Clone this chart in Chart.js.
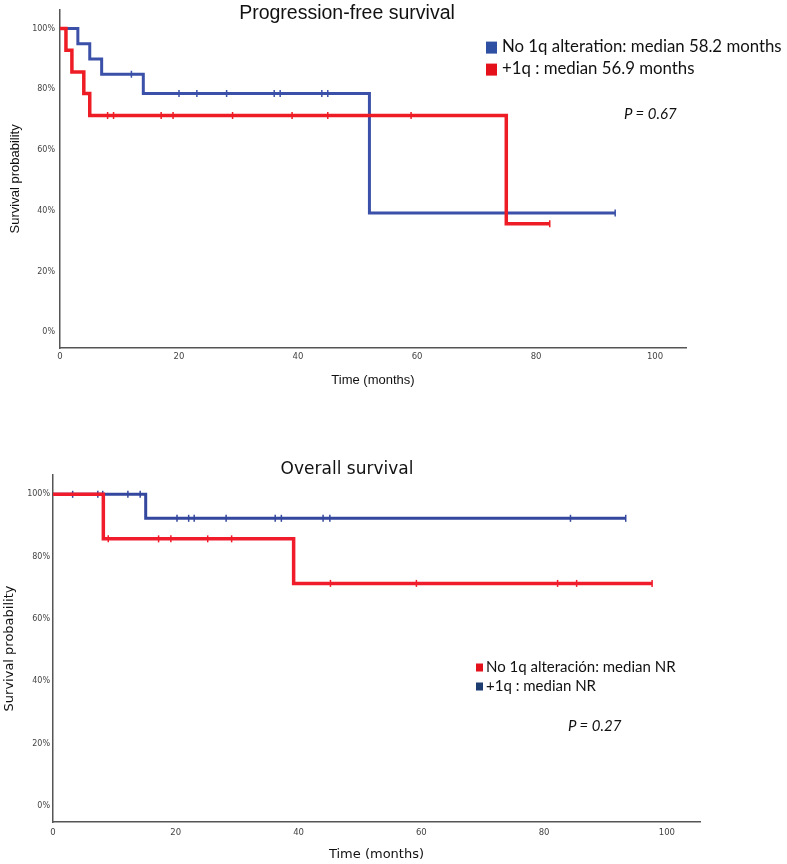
<!DOCTYPE html>
<html>
<head>
<meta charset="utf-8">
<script src="https://cdn.jsdelivr.net/npm/chart.js@4"></script>
<style>
  body { margin: 0; background: #fff; width: 787px; height: 864px; position: relative; overflow: hidden; }
  canvas { position: absolute; left: 0; }
  #pfs { top: 0; }
  #os { top: 430px; }
  .txt { position: absolute; white-space: nowrap; line-height: 1; color: #111; }
  .c { transform: translate(-50%, -50%); }
  .row { transform: translateY(-50%); font-family: Lato, sans-serif; }
  .sq { display: inline-block; vertical-align: middle; margin-right: 5px; }
  .p { font-family: Lato, sans-serif; font-style: italic; transform: translateY(-50%); }
</style>
</head>
<body>
<canvas id="pfs" width="787" height="400"></canvas>
<canvas id="os" width="787" height="434"></canvas>

<div class="txt c" style="left:347px; top:12px; font:19.5px 'Liberation Sans', Arial, sans-serif;">Progression-free survival</div>
<div class="txt row" style="left:486px; top:46px; font-size:16.8px;"><span class="sq" style="width:11px;height:12px;background:#2f4fa2;"></span>No 1q alteration: median 58.2 months</div>
<div class="txt row" style="left:486px; top:68px; font-size:16.8px;"><span class="sq" style="width:11px;height:12px;background:#e4101a;"></span>+1q : median 56.9 months</div>
<div class="txt p" style="left:624px; top:113px; font-size:15px;">P = 0.67</div>

<div class="txt c" style="left:347px; top:468px; font:17px 'DejaVu Sans', sans-serif;">Overall survival</div>
<div class="txt row" style="left:476px; top:666px; font-size:15px;"><span class="sq" style="width:7px;height:8px;background:#e4101a;margin-right:3px;"></span>No 1q alteración: median NR</div>
<div class="txt row" style="left:476px; top:685px; font-size:15px;"><span class="sq" style="width:7px;height:8px;background:#1d3c70;margin-right:3px;"></span>+1q : median NR</div>
<div class="txt p" style="left:568px; top:725px; font-size:15px;">P = 0.27</div>

<script>
const xTicks = [0, 20, 40, 60, 80, 100];
const yTicks = [0, 20, 40, 60, 80, 100];

// progression-free survival
const pfsNoAltTimes = [0, 3, 5, 7, 14, 52];
const pfsNoAltSurv = [100, 95, 90, 85, 78.6, 39.3];
const pfsNoAltCensored = [12, 20, 23, 28, 36, 37, 44, 45, 93.3];
const pfsGainTimes = [0, 1, 2, 4, 5, 75];
const pfsGainSurv = [100, 92.9, 85.7, 78.6, 71.4, 35.7];
const pfsGainCensored = [8, 9, 17, 19, 29, 39, 45, 59, 82.3];

// overall survival
const osNoAltTimes = [0, 8.2, 39.2];
const osNoAltSurv = [100, 85.7, 71.4];
const osNoAltCensored = [9, 17.2, 19.2, 25.2, 29.1, 45.2, 59.2, 82.2, 85.3, 97.6];
const osGainTimes = [0, 15.1];
const osGainSurv = [100, 92.3];
const osGainCensored = [3.2, 7.3, 8.1, 12.2, 14.2, 20.2, 22.1, 23, 28.2, 36.2, 37.2, 44, 45.1, 84.3, 93.3];

// step curve points, censored ones get a tick mark
function kmPoints(times, surv, censored) {
  const pts = times.map((t, i) => ({x: t, y: surv[i], c: false}));
  censored.forEach(t => {
    let s = surv[0];
    times.forEach((et, i) => { if (et <= t) s = surv[i]; });
    pts.push({x: t, y: s, c: true});
  });
  return pts.sort((a, b) => a.x - b.x);
}

function kmDataset(times, surv, censored, color, width) {
  const pts = kmPoints(times, surv, censored);
  return {
    data: pts,
    borderColor: color,
    borderWidth: width,
    stepped: 'before',
    fill: false,
    pointStyle: 'line',
    rotation: 90,
    pointRadius: pts.map(p => p.c ? 3.5 : 0),
    pointBorderColor: color,
    pointBorderWidth: 1.5,
    pointHoverRadius: 0
  };
}

function makeChart(id, datasets, cfg) {
  return new Chart(document.getElementById(id), {
    type: 'line',
    data: {datasets: datasets},
    options: {
      responsive: false,
      animation: false,
      layout: {padding: cfg.padding},
      plugins: {legend: {display: false}, tooltip: {enabled: false}},
      scales: {
        x: {
          type: 'linear', min: 0, max: cfg.xMax,
          afterBuildTicks: s => { s.ticks = xTicks.map(v => ({value: v})); },
          afterFit: s => { s.height = cfg.xHeight; },
          grid: {display: false, drawTicks: false},
          border: {display: true, color: '#555', width: 1.5},
          ticks: {padding: cfg.xPad, maxRotation: 0, color: '#444', font: {family: 'DejaVu Sans', size: 8.5}},
          title: {display: true, text: 'Time (months)', color: '#111', font: cfg.titleFont, padding: {top: 0, bottom: cfg.xTitlePad}}
        },
        y: {
          min: -5.2, max: 106.2,
          afterBuildTicks: s => { s.ticks = yTicks.map(v => ({value: v})); },
          afterFit: s => { s.width = cfg.yWidth; },
          grid: {display: false, drawTicks: false},
          border: {display: true, color: '#555', width: 1.5},
          ticks: {padding: cfg.yPad, color: '#444', font: {family: 'DejaVu Sans', size: 8}, callback: v => v + '%'},
          title: {display: true, text: 'Survival probability', color: '#111', font: cfg.titleFont, padding: {top: cfg.yTitlePad, bottom: 0}}
        }
      }
    }
  });
}

makeChart('pfs', [
  kmDataset(pfsGainTimes, pfsGainSurv, pfsGainCensored, '#ee1c24', 3.5),
  kmDataset(pfsNoAltTimes, pfsNoAltSurv, pfsNoAltCensored, '#3b50a8', 3)
], {
  padding: {top: 5, right: 101, left: 0, bottom: 0},
  xMax: 105.2, xHeight: 52, yWidth: 60, xPad: 4, yPad: 5,
  xTitlePad: 12.2, yTitlePad: 7.2,
  titleFont: {family: 'Liberation Sans', size: 13}
});

makeChart('os', [
  kmDataset(osNoAltTimes, osNoAltSurv, osNoAltCensored, '#f01c2c', 3.5),
  kmDataset(osGainTimes, osGainSurv, osGainCensored, '#34479e', 3)
], {
  padding: {top: 45, right: 87, left: 0, bottom: 0},
  xMax: 105.4, xHeight: 42, yWidth: 53, xPad: 6, yPad: 3,
  xTitlePad: 1.2, yTitlePad: 2.2,
  titleFont: {family: 'DejaVu Sans', size: 13}
});
</script>
</body>
</html>
